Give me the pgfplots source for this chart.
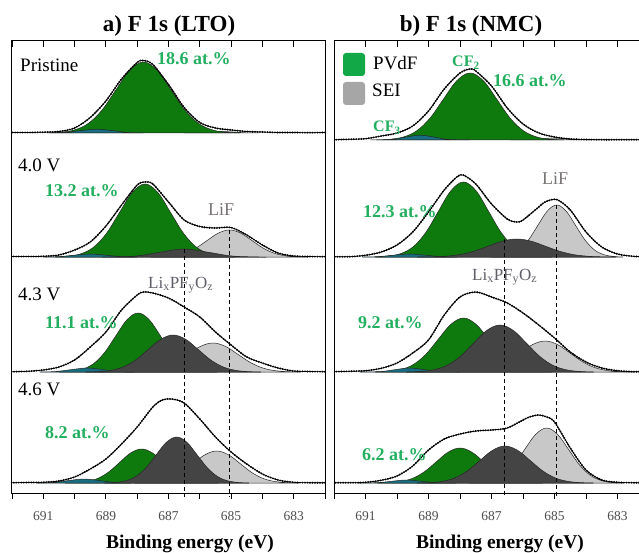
\documentclass[border=0pt]{standalone}
\usepackage{pgfplots}
\pgfplotsset{compat=1.18}
\usepackage{fontspec}
\setmainfont{Liberation Serif}
\definecolor{pvdf}{RGB}{14,122,14}
\definecolor{tealc}{RGB}{24,110,128}
\definecolor{dgrey}{RGB}{68,68,68}
\definecolor{lgrey}{RGB}{200,200,200}
\definecolor{tgreen}{RGB}{35,175,95}
\definecolor{leggreen}{RGB}{18,168,72}
\definecolor{leggrey}{RGB}{166,166,166}
\definecolor{labgrey}{RGB}{120,115,115}
\definecolor{labgrey2}{RGB}{95,95,105}
\pgfplotsset{
 panelL/.style={scale only axis, width=313pt, xmin=682, xmax=692, x dir=reverse, hide axis, anchor=south west, ymin=-8},
 panelR/.style={scale only axis, width=315pt, xmin=682, xmax=692, x dir=reverse, hide axis, anchor=south west, ymin=-8},
 comp/.style={draw=black!85, line width=0.5pt, smooth, tension=0.6},
 spec/.style={black, line width=0.7pt, smooth, tension=0.5, postaction={draw=black, line width=2.1pt, line cap=round, dash pattern=on 0pt off 2.5pt}},
 frame/.style={scale only axis, anchor=south west, height=452pt, xmin=682, xmax=692, x dir=reverse, ymin=-493, ymax=-41, ytick=\empty,
   xtick={683,685,687,689,691}, minor xtick={682,684,686,688,690,692}, major tick length=6pt, minor tick length=6pt,
   axis line style={line width=1pt}, every tick/.style={black, line width=0.9pt}, clip=false,
   /pgf/number format/assume math mode=true, /pgf/number format/set thousands separator={},
   xticklabel style={font=\fontsize{13.5}{14}\selectfont, text=black!70, yshift=-9pt}},
}
\begin{document}
\begin{tikzpicture}
\useasboundingbox (0pt,0pt) rectangle (639pt,-553pt);
\clip (0pt,0pt) rectangle (639pt,-553pt);
% ================= LEFT COLUMN =================
% L1 Pristine
\begin{axis}[panelL, at={(12pt,-141pt)}, height=100pt, ymax=92]
\addplot[comp, fill=lgrey] coordinates {(684.1,0) (684.5,0.2) (684.9,0.9) (685.3,1.5) (685.7,0.9) (686.1,0.2) (686.5,0)} \closedcycle;
\addplot[comp, fill=pvdf] coordinates {(684.72,0) (685.16,0.79) (685.6,3.12) (686.04,9.61) (686.48,23.05) (686.92,43.06) (687.36,62.66) (687.8,71) (688.24,62.66) (688.68,43.06) (689.12,23.05) (689.56,9.61) (690.0,3.12) (690.44,0.79) (690.88,0)} \closedcycle;
\addplot[comp, fill=tealc] coordinates {(687.8,0) (688.3,0.5) (688.8,2.4) (689.3,3.8) (689.8,2.4) (690.3,0.5) (690.8,0)} \closedcycle;
\addplot[spec] coordinates {(682,0.5) (682.5,0.3) (683,0.5) (683.5,0.5) (684,1) (684.5,1.5) (685,3) (685.5,5) (686,10.5) (686.5,25.5) (687,48.5) (687.5,68.5) (687.8,72.5) (688,70.5) (688.5,54) (689,32) (689.5,15.5) (690,5) (690.5,1.5) (691,0.8) (691.5,0.5) (692,0.5)};
\end{axis}
% L2 4.0 V
\begin{axis}[panelL, at={(12pt,-265pt)}, height=124pt, ymax=116]
\addplot[comp, fill=lgrey] coordinates {(682.53,0) (682.89,0.3) (683.25,1.19) (683.61,3.65) (683.97,8.77) (684.33,16.38) (684.69,23.83) (685.05,27) (685.41,23.83) (685.77,16.38) (686.13,8.77) (686.49,3.65) (686.85,1.19) (687.21,0.3) (687.57,0)} \closedcycle;
\addplot[comp, fill=pvdf] coordinates {(684.88,0) (685.29,0.81) (685.7,3.2) (686.11,9.88) (686.52,23.7) (686.93,44.27) (687.34,64.42) (687.75,73) (688.16,64.42) (688.57,44.27) (688.98,23.7) (689.39,9.88) (689.8,3.2) (690.21,0.81) (690.62,0)} \closedcycle;
\addplot[comp, fill=tealc] coordinates {(688,0) (688.5,0.4) (689,1.8) (689.5,3) (690,1.8) (690.5,0.4) (691,0)} \closedcycle;
\addplot[comp, fill=dgrey] coordinates {(683.875,0) (684.25,0.09) (685.0,1.08) (685.75,4.85) (686.5,8) (687.25,4.85) (688.0,1.08) (688.75,0.09) (689.125,0)} \closedcycle;
\addplot[spec] coordinates {(682,0.3) (682.5,0.5) (683,1) (683.5,4) (684,12) (684.5,22) (685,29.5) (685.5,29) (686,30.5) (686.5,37) (687,55) (687.5,73) (687.75,75) (688,72) (688.5,52) (689,31) (689.5,15) (690,7) (690.5,2) (691,0.7) (691.5,0.5) (692,0.5)};
\end{axis}
% L3 4.3 V
\begin{axis}[panelL, at={(12pt,-380pt)}, height=122pt, ymax=114]
\addplot[comp, fill=lgrey] coordinates {(682.78,0) (683.18,0.32) (683.58,1.27) (683.98,3.92) (684.38,9.42) (684.78,17.59) (685.18,25.59) (685.58,29) (685.98,25.59) (686.38,17.59) (686.78,9.42) (687.18,3.92) (687.58,1.27) (687.98,0.32) (688.38,0)} \closedcycle;
\addplot[comp, fill=pvdf] coordinates {(685.45,0) (685.81,0.65) (686.17,2.59) (686.53,7.98) (686.89,19.16) (687.25,35.78) (687.61,52.07) (687.97,59) (688.33,52.07) (688.69,35.78) (689.05,19.16) (689.41,7.98) (689.77,2.59) (690.13,0.65) (690.49,0)} \closedcycle;
\addplot[comp, fill=tealc] coordinates {(688.1,0) (688.6,0.5) (689.1,2.4) (689.6,4) (690.1,2.4) (690.6,0.5) (691.1,0)} \closedcycle;
\addplot[comp, fill=dgrey] coordinates {(684.05,0) (684.45,0.41) (684.85,1.62) (685.25,5.01) (685.65,12.01) (686.05,22.44) (686.45,32.65) (686.85,37) (687.25,32.65) (687.65,22.44) (688.05,12.01) (688.45,5.01) (688.85,1.62) (689.25,0.41) (689.65,0)} \closedcycle;
\addplot[spec] coordinates {(682,0.3) (682.5,0.5) (683,1) (683.5,4) (684,9) (684.5,15) (685,27) (685.5,40) (686,55) (686.5,65) (687,74) (687.5,79) (687.8,80) (688,77) (688.5,62) (689,40) (689.5,25) (690,12) (690.5,5) (691,2) (691.5,0.7) (692,0.3)};
\end{axis}
% L4 4.6 V
\begin{axis}[panelL, at={(12pt,-491pt)}, height=119pt, ymax=111]
\addplot[comp, fill=lgrey] coordinates {(682.835,0) (683.21,0.36) (683.585,1.4) (683.96,4.33) (684.335,10.39) (684.71,19.41) (685.085,28.24) (685.46,32) (685.835,28.24) (686.21,19.41) (686.585,10.39) (686.96,4.33) (687.335,1.4) (687.71,0.36) (688.085,0)} \closedcycle;
\addplot[comp, fill=pvdf] coordinates {(685.41,0) (685.76,0.38) (686.11,1.49) (686.46,4.6) (686.81,11.04) (687.16,20.62) (687.51,30.01) (687.86,34) (688.21,30.01) (688.56,20.62) (688.91,11.04) (689.26,4.6) (689.61,1.49) (689.96,0.38) (690.31,0)} \closedcycle;
\addplot[comp, fill=tealc] coordinates {(688.2,0) (688.7,0.5) (689.2,2.4) (689.7,4) (690.2,2.4) (690.7,0.5) (691.2,0)} \closedcycle;
\addplot[comp, fill=dgrey] coordinates {(684.43,0) (684.76,0.51) (685.09,2.02) (685.42,6.22) (685.75,14.94) (686.08,27.9) (686.41,40.6) (686.74,46) (687.07,40.6) (687.4,27.9) (687.73,14.94) (688.06,6.22) (688.39,2.02) (688.72,0.51) (689.05,0)} \closedcycle;
\addplot[spec] coordinates {(682,0.3) (682.5,0.3) (683,0.7) (683.5,3) (684,9) (684.5,19) (685,31) (685.5,46) (686,64) (686.5,80) (686.9,84) (687.2,83) (687.5,76) (688,56) (688.5,39) (689,24) (689.5,14) (690,6) (690.5,2) (691,0.7) (691.5,0.5) (692,0.3)};
\end{axis}
% ================= RIGHT COLUMN =================
% R1 Pristine
\begin{axis}[panelR, at={(334pt,-148pt)}, height=107pt, ymax=99]
\addplot[comp, fill=lgrey] coordinates {(683.6,0) (684.2,0.27) (684.6,1.21) (685,2) (685.4,1.21) (685.8,0.27) (686.4,0)} \closedcycle;
\addplot[comp, fill=pvdf] coordinates {(684.705,0) (685.13,0.74) (685.555,2.94) (685.98,9.07) (686.405,21.75) (686.83,40.64) (687.255,59.13) (687.68,67) (688.105,59.13) (688.53,40.64) (688.955,21.75) (689.38,9.07) (689.805,2.94) (690.23,0.74) (690.655,0)} \closedcycle;
\addplot[comp, fill=tealc] coordinates {(687.695,0) (688.37,0.6) (688.82,2.9) (689.27,4.8) (689.72,2.9) (690.17,0.6) (690.845,0)} \closedcycle;
\addplot[spec] coordinates {(682,0.3) (682.5,0.3) (683,0.3) (683.5,0.3) (684,0.5) (684.5,1) (685,3) (685.5,7) (686,16) (686.5,32) (687,54) (687.5,69) (687.68,71) (688,67) (688.5,51) (689,29) (689.5,14) (690,7) (690.5,4) (691,1.3) (691.5,0.7) (692,0.3)};
\end{axis}
% R2 4.0 V
\begin{axis}[panelR, at={(334pt,-265pt)}, height=122pt, ymax=114]
\addplot[comp, fill=lgrey] coordinates {(682.83,0) (683.13,0.58) (683.43,2.28) (683.73,7.04) (684.03,16.88) (684.33,31.54) (684.63,45.89) (684.93,52) (685.23,45.89) (685.53,31.54) (685.83,16.88) (686.13,7.04) (686.43,2.28) (686.73,0.58) (687.03,0)} \closedcycle;
\addplot[comp, fill=pvdf] coordinates {(685.09,0) (685.49,0.83) (685.89,3.29) (686.29,10.15) (686.69,24.35) (687.09,45.49) (687.49,66.19) (687.89,75) (688.29,66.19) (688.69,45.49) (689.09,24.35) (689.49,10.15) (689.89,3.29) (690.29,0.83) (690.69,0)} \closedcycle;
\addplot[comp, fill=tealc] coordinates {(688.1,0) (688.6,0.4) (689.1,1.8) (689.6,3) (690.1,1.8) (690.6,0.4) (691.1,0)} \closedcycle;
\addplot[comp, fill=dgrey] coordinates {(683.05,0) (683.5,0.2) (683.95,0.79) (684.4,2.44) (684.85,5.84) (685.3,10.92) (685.75,15.89) (686.2,18) (686.65,15.89) (687.1,10.92) (687.55,5.84) (688.0,2.44) (688.45,0.79) (688.9,0.2) (689.35,0)} \closedcycle;
\addplot[spec] coordinates {(682,0.3) (682.5,0.7) (683,3) (683.5,10) (684,25) (684.5,47) (684.93,57.5) (685.3,55) (685.5,50) (686,37) (686.2,35) (686.5,38) (687,53) (687.5,73) (687.9,82) (688.1,80) (688.5,67) (689,45) (689.5,25) (690,12) (690.5,5) (691,1.7) (691.5,0.3) (692,0.3)};
\end{axis}
% R3 4.3 V
\begin{axis}[panelR, at={(334pt,-380pt)}, height=123pt, ymax=115]
\addplot[comp, fill=lgrey] coordinates {(682.5,0) (682.9,0.34) (683.3,1.36) (683.7,4.19) (684.1,10.07) (684.5,18.8) (684.9,27.36) (685.3,31) (685.7,27.36) (686.1,18.8) (686.5,10.07) (686.9,4.19) (687.3,1.36) (687.7,0.34) (688.1,0)} \closedcycle;
\addplot[comp, fill=pvdf] coordinates {(685.09,0) (685.49,0.6) (685.89,2.37) (686.29,7.31) (686.69,17.53) (687.09,32.75) (687.49,47.66) (687.89,54) (688.29,47.66) (688.69,32.75) (689.09,17.53) (689.49,7.31) (689.89,2.37) (690.29,0.6) (690.69,0)} \closedcycle;
\addplot[comp, fill=tealc] coordinates {(688.025,0) (688.7,0.5) (689.15,2.4) (689.6,4) (690.05,2.4) (690.5,0.5) (691.175,0)} \closedcycle;
\addplot[comp, fill=dgrey] coordinates {(683.755,0) (684.18,0.52) (684.605,2.06) (685.03,6.36) (685.455,15.26) (685.88,28.51) (686.305,41.48) (686.73,47) (687.155,41.48) (687.58,28.51) (688.005,15.26) (688.43,6.36) (688.855,2.06) (689.28,0.52) (689.705,0)} \closedcycle;
\addplot[spec] coordinates {(682,0.3) (682.5,0.3) (683,1.3) (683.5,4) (684,10) (684.5,20) (685,34) (685.5,47) (686,59) (686.5,69) (687,75) (687.5,80) (688,75) (688.5,57) (689,32) (689.5,19) (690,9) (690.5,3.7) (691,1.3) (691.5,0.7) (692,0.3)};
\end{axis}
% R4 4.6 V
\begin{axis}[panelR, at={(334pt,-491pt)}, height=119pt, ymax=111]
\addplot[comp, fill=lgrey] coordinates {(682.8,0) (683.15,0.61) (683.5,2.41) (683.85,7.44) (684.2,17.86) (684.55,33.36) (684.9,48.54) (685.25,55) (685.6,48.54) (685.95,33.36) (686.3,17.86) (686.65,7.44) (687.0,2.41) (687.35,0.61) (687.7,0)} \closedcycle;
\addplot[comp, fill=pvdf] coordinates {(685.375,0) (685.75,0.39) (686.125,1.54) (686.5,4.74) (686.875,11.36) (687.25,21.23) (687.625,30.89) (688,35) (688.375,30.89) (688.75,21.23) (689.125,11.36) (689.5,4.74) (689.875,1.54) (690.25,0.39) (690.625,0)} \closedcycle;
\addplot[comp, fill=tealc] coordinates {(688.125,0) (688.8,0.4) (689.25,1.8) (689.7,3) (690.15,1.8) (690.6,0.4) (691.275,0)} \closedcycle;
\addplot[comp, fill=dgrey] coordinates {(683.77,0) (684.17,0.41) (684.57,1.62) (684.97,5.01) (685.37,12.01) (685.77,22.44) (686.17,32.65) (686.57,37) (686.97,32.65) (687.37,22.44) (687.77,12.01) (688.17,5.01) (688.57,1.62) (688.97,0.41) (689.37,0)} \closedcycle;
\addplot[spec] coordinates {(682,0.3) (682.5,0.3) (683,0.7) (683.5,3) (684,13) (684.5,35) (685,61) (685.25,66) (685.5,68) (685.8,66) (686,63) (686.5,55) (687,53) (687.5,52) (688,49) (688.5,44) (689,33) (689.5,17) (690,7) (690.5,2.7) (691,0.7) (691.5,0.3) (692,0.3)};
\end{axis}
% ================= FRAMES =================
\begin{axis}[frame, at={(12pt,-493pt)}, width=313pt, xtick pos=bottom, tick align=outside]
\addplot[black, line width=0.9pt, dash pattern=on 4pt off 3pt] coordinates {(686.5,-249) (686.5,-497)};
\addplot[black, line width=0.9pt, dash pattern=on 4pt off 3pt] coordinates {(685.05,-230) (685.05,-497)};
\end{axis}
\begin{axis}[frame, at={(12pt,-493pt)}, width=313pt, axis x line*=top, axis y line=none, tick align=inside, xticklabels={}]
\end{axis}
\begin{axis}[frame, at={(334pt,-493pt)}, width=315pt, xtick pos=bottom, tick align=outside]
\addplot[black, line width=0.9pt, dash pattern=on 4pt off 3pt] coordinates {(686.6,-239) (686.6,-497)};
\addplot[black, line width=0.9pt, dash pattern=on 4pt off 3pt] coordinates {(684.93,-205) (684.93,-497)};
\end{axis}
\begin{axis}[frame, at={(334pt,-493pt)}, width=315pt, axis x line*=top, axis y line=none, tick align=inside, xticklabels={}]
\end{axis}
% ================= TEXT =================
\begin{scope}[every node/.style={inner sep=0pt}]
\node[anchor=base, font=\bfseries\fontsize{23}{26}\selectfont] at (169pt,-32pt) {a) F 1s (LTO)};
\node[anchor=base, font=\bfseries\fontsize{23}{26}\selectfont] at (471pt,-32pt) {b) F 1s (NMC)};
\node[anchor=base, font=\bfseries\fontsize{19.5}{22}\selectfont] at (190pt,-548pt) {Binding energy (eV)};
\node[anchor=base, font=\bfseries\fontsize{19.5}{22}\selectfont] at (500pt,-548pt) {Binding energy (eV)};
% left labels
\node[anchor=base west, font=\fontsize{19}{21}\selectfont] at (20pt,-72pt) {Pristine};
\node[anchor=base west, font=\fontsize{19}{21}\selectfont] at (18pt,-172pt) {4.0 V};
\node[anchor=base west, font=\fontsize{19}{21}\selectfont] at (18pt,-300pt) {4.3 V};
\node[anchor=base west, font=\fontsize{19}{21}\selectfont] at (18pt,-395pt) {4.6 V};
\node[anchor=base west, text=tgreen, font=\bfseries\fontsize{18}{20}\selectfont] at (157pt,-65pt) {18.6 at.\%};
\node[anchor=base west, text=tgreen, font=\bfseries\fontsize{18}{20}\selectfont] at (45pt,-197pt) {13.2 at.\%};
\node[anchor=base west, text=tgreen, font=\bfseries\fontsize{18}{20}\selectfont] at (45pt,-328pt) {11.1 at.\%};
\node[anchor=base west, text=tgreen, font=\bfseries\fontsize{18}{20}\selectfont] at (45pt,-438pt) {8.2 at.\%};
\node[anchor=base west, text=labgrey, font=\fontsize{18}{20}\selectfont] at (208pt,-215pt) {LiF};
\node[anchor=base west, text=labgrey2, font=\fontsize{17}{19}\selectfont] at (148pt,-288pt) {Li\textsubscript{x}PF\textsubscript{y}O\textsubscript{z}};
% right labels
\node[anchor=base west, text=tgreen, font=\bfseries\fontsize{16}{18}\selectfont] at (452pt,-67pt) {CF\textsubscript{2}};
\node[anchor=base west, text=tgreen, font=\bfseries\fontsize{16}{18}\selectfont] at (373pt,-132pt) {CF\textsubscript{3}};
\node[anchor=base west, text=tgreen, font=\bfseries\fontsize{18}{20}\selectfont] at (493pt,-87pt) {16.6 at.\%};
\node[anchor=base west, text=tgreen, font=\bfseries\fontsize{18}{20}\selectfont] at (363pt,-218pt) {12.3 at.\%};
\node[anchor=base west, text=tgreen, font=\bfseries\fontsize{18}{20}\selectfont] at (358pt,-328pt) {9.2 at.\%};
\node[anchor=base west, text=tgreen, font=\bfseries\fontsize{18}{20}\selectfont] at (362pt,-460pt) {6.2 at.\%};
\node[anchor=base west, text=labgrey, font=\fontsize{18}{20}\selectfont] at (542pt,-185pt) {LiF};
\node[anchor=base west, text=labgrey2, font=\fontsize{17}{19}\selectfont] at (472pt,-280pt) {Li\textsubscript{x}PF\textsubscript{y}O\textsubscript{z}};
% legend
\fill[leggreen, rounded corners=3pt] (343pt,-53pt) rectangle (365pt,-76pt);
\fill[leggrey, rounded corners=3pt] (343pt,-82pt) rectangle (365pt,-105pt);
\node[anchor=base west, font=\fontsize{19}{21}\selectfont] at (373pt,-70pt) {PVdF};
\node[anchor=base west, font=\fontsize{19}{21}\selectfont] at (372pt,-97pt) {SEI};
\end{scope}
\end{tikzpicture}
\end{document}
